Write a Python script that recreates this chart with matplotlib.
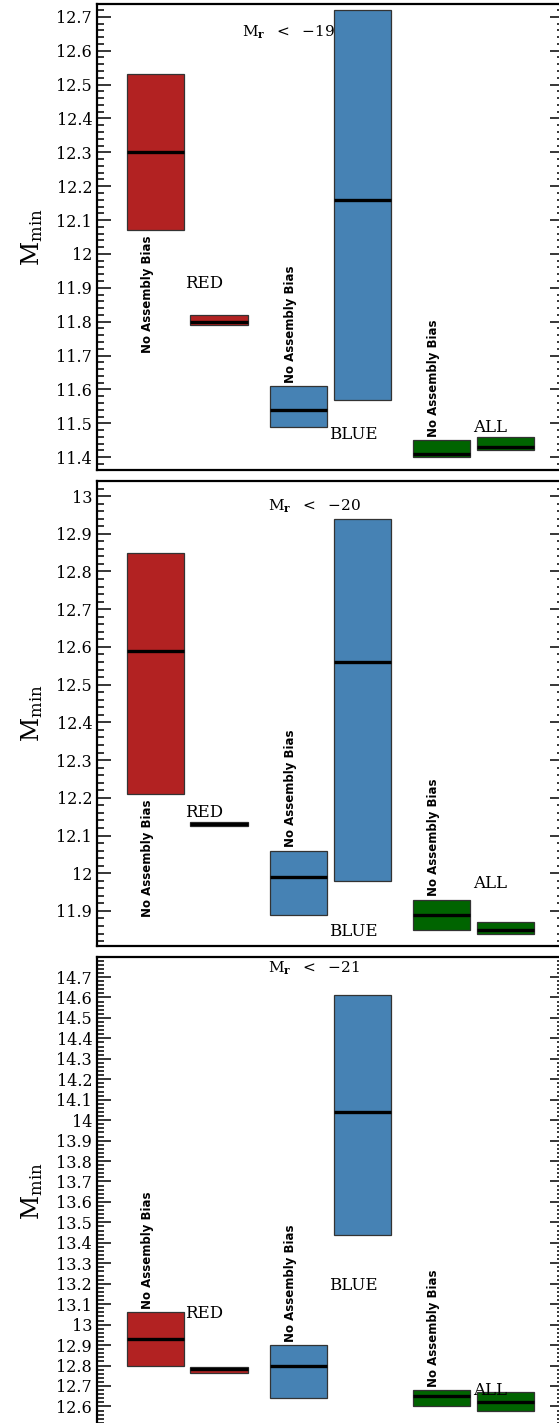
import numpy as np
import matplotlib
matplotlib.use("Agg")
import matplotlib.pyplot as plt
from matplotlib.ticker import MultipleLocator

plt.rcParams['font.family'] = ['DejaVu Serif']
plt.rcParams['mathtext.fontset'] = 'dejavuserif'

# bar order: red noAB, red AB, blue noAB, blue AB, all noAB, all AB
positions = [1, 2, 3.25, 4.25, 5.5, 6.5]
colors = ['#b22222', '#b22222', '#4682b4', '#4682b4', '#006400', '#006400']

panel_titles = [r'$\mathregular{M_{\mathbf{r}}\ \ <\ \ {-}19}$',
                r'$\mathregular{M_{\mathbf{r}}\ \ <\ \ {-}20}$',
                r'$\mathregular{M_{\mathbf{r}}\ \ <\ \ {-}21}$']

low_19 = [12.07, 11.79, 11.49, 11.57, 11.40, 11.42]
high_19 = [12.53, 11.82, 11.61, 12.72, 11.45, 11.46]
med_19 = [12.30, 11.80, 11.54, 12.16, 11.41, 11.43]

low_20 = [12.21, 12.125, 11.89, 11.98, 11.85, 11.84]
high_20 = [12.85, 12.135, 12.06, 12.94, 11.93, 11.87]
med_20 = [12.59, 12.13, 11.99, 12.56, 11.89, 11.85]

low_21 = [12.80, 12.765, 12.64, 13.44, 12.60, 12.58]
high_21 = [13.06, 12.795, 12.90, 14.61, 12.68, 12.67]
med_21 = [12.93, 12.785, 12.80, 14.04, 12.65, 12.62]

lows = [low_19, low_20, low_21]
highs = [high_19, high_20, high_21]
meds = [med_19, med_20, med_21]

ylims = [(11.362, 12.738), (11.807, 13.04), (12.505, 14.798)]

# category label y positions (RED, BLUE, ALL)
red_y = [11.914, 12.162, 13.055]
blue_y = [11.466, 11.846, 13.19]
all_y = [11.487, 11.973, 12.68]
# is the "No Assembly Bias" label under the red bar?
red_label_below = [True, True, False]
title_pos = [(0.409, 0.94), (0.465, 0.946), (0.465, 0.976)]

fig = plt.figure(figsize=(5.59, 14.23), dpi=100)
boxes = [(0.1735, 0.6697, 0.836, 0.3275),
         (0.1735, 0.3352, 0.836, 0.3268),
         (0.1735, -0.002, 0.836, 0.3295)]

for i in range(3):
    ax = fig.add_axes(boxes[i])
    lo = np.array(lows[i])
    hi = np.array(highs[i])
    ax.bar(positions, hi - lo, bottom=lo, width=0.9, color=colors,
           edgecolor='#333333', linewidth=0.9)
    for x, m in zip(positions, meds[i]):
        ax.hlines(m, x - 0.45, x + 0.45, color='black', linewidth=2.4)

    ax.set_xlim(0.08, 7.43)
    ax.set_ylim(*ylims[i])
    ax.yaxis.set_major_locator(MultipleLocator(0.1))
    ax.yaxis.set_minor_locator(MultipleLocator(0.02))
    ax.yaxis.set_major_formatter(plt.FuncFormatter(lambda v, p: ('%.1f' % v).rstrip('0').rstrip('.')))
    ax.set_xticks([])
    ax.tick_params(axis='y', which='both', direction='in', left=True, right=True,
                   labelsize=11.5, width=1.1)
    ax.tick_params(axis='y', which='major', length=10)
    ax.tick_params(axis='y', which='minor', length=5)
    for sp in ax.spines.values():
        sp.set_linewidth(1.6)
    ax.set_ylabel(r'$\mathregular{M_{min}}$', fontsize=17, labelpad=8)

    ax.text(title_pos[i][0], title_pos[i][1], panel_titles[i], transform=ax.transAxes,
            ha='center', va='center', fontsize=11)

    # "No Assembly Bias" labels on the no-AB bars
    for k in [0, 2, 4]:
        x = positions[k] - 0.13
        if k == 0 and red_label_below[i]:
            ax.annotate('No Assembly Bias', (x, lows[i][k]), xytext=(0, -4),
                        textcoords='offset points', rotation=90, ha='center', va='top',
                        fontsize=8.5, family='DejaVu Sans', fontweight='bold')
        else:
            ax.annotate('No Assembly Bias', (x, highs[i][k]), xytext=(0, 2.5),
                        textcoords='offset points', rotation=90, ha='center', va='bottom',
                        fontsize=8.5, family='DejaVu Sans', fontweight='bold')

    ax.text(1.47, red_y[i], 'RED', ha='left', va='center', fontsize=12)
    ax.text(3.73, blue_y[i], 'BLUE', ha='left', va='center', fontsize=12)
    ax.text(6.00, all_y[i], 'ALL', ha='left', va='center', fontsize=12)

fig.savefig('out.png', dpi=100)
